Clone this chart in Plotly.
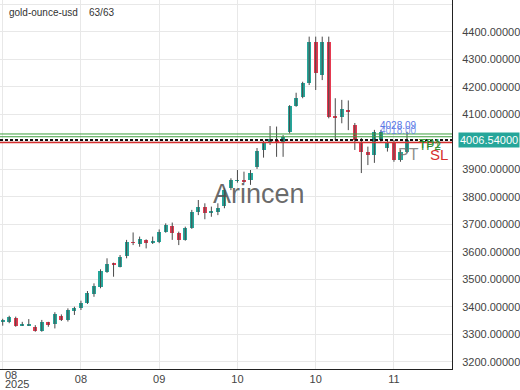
import plotly.graph_objects as go

symbol = "gold-ounce-usd"
count_label = "63/63"
watermark = "Arincen"

opens = [3345, 3344, 3359, 3332, 3332, 3327, 3312, 3344, 3337, 3367,
         3352, 3388, 3395, 3413, 3445, 3473, 3526, 3559, 3545, 3584,
         3634, 3628, 3643, 3631, 3636, 3673, 3693, 3668, 3643, 3685,
         3745, 3761, 3742, 3745, 3766, 3832, 3858, 3860, 3861, 3909,
         3970, 3994, 4006, 4000, 4036, 4130, 4164, 4212, 4364, 4243,
         4364, 4093, 4089, 4115, 4061, 4000, 3964, 3952, 4006, 3976,
         4000, 3933, 3964]
highs = [3356, 3367, 3364, 3345, 3355, 3333, 3352, 3345, 3380, 3372,
         3394, 3400, 3422, 3457, 3485, 3536, 3576, 3560, 3588, 3643,
         3670, 3655, 3645, 3655, 3681, 3703, 3706, 3673, 3691, 3752,
         3788, 3776, 3764, 3776, 3830, 3867, 3897, 3891, 3897, 3977,
         4003, 4057, 4055, 4024, 4133, 4178, 4218, 4382, 4382, 4382,
         4382, 4158, 4152, 4150, 4068, 4013, 3982, 4043, 4043, 4006,
         4006, 3970, 4036]
lows = [3331, 3340, 3327, 3330, 3330, 3309, 3309, 3327, 3321, 3348,
        3346, 3370, 3388, 3410, 3436, 3467, 3523, 3509, 3543, 3576,
        3624, 3618, 3612, 3628, 3631, 3669, 3643, 3624, 3640, 3683,
        3733, 3718, 3727, 3733, 3758, 3824, 3851, 3850, 3843, 3901,
        3942, 3988, 3945, 3945, 4030, 4127, 4158, 4206, 4188, 4224,
        4085, 4006, 4067, 4042, 3970, 3886, 3915, 3923, 4000, 3964,
        3927, 3927, 3959]
closes = [3351, 3362, 3330, 3334, 3334, 3312, 3346, 3337, 3373, 3352,
          3388, 3395, 3415, 3450, 3476, 3530, 3555, 3550, 3582, 3636,
          3632, 3646, 3631, 3640, 3673, 3697, 3669, 3641, 3685, 3745,
          3764, 3742, 3748, 3758, 3824, 3861, 3860, 3857, 3885, 3967,
          3994, 4009, 3994, 4016, 4130, 4158, 4212, 4364, 4249, 4364,
          4091, 4089, 4119, 4108, 4006, 3964, 3952, 4036, 4036, 4000,
          3933, 3964, 4006.54]

tick_idx = [0, 12, 24, 36, 48, 60]
tick_labels = ["", "08", "09", "10", "10", "11"]
first_tick_lines = ["08", "2025"]
y_ticks = list(range(3200, 4600, 100))

tp2_level = 4028.09
tp1_level = 4018.0
entry_level = 4006.54
sl_level = 3997.5

UP = "#26a69a"
DOWN = "#e53950"
AXFONT = "Liberation Sans Narrow, Arial Narrow, Arial"

idx = list(range(len(opens)))
colors = [UP if c >= o else DOWN for o, c in zip(opens, closes)]
bases = [min(o, c) for o, c in zip(opens, closes)]
heights = [max(abs(c - o), 2.0) for o, c in zip(opens, closes)]

wx, wy = [], []
for i, h, l in zip(idx, highs, lows):
    wx += [i, i, None]
    wy += [l, h, None]

fig = go.Figure()
fig.add_trace(go.Scatter(x=wx, y=wy, mode="lines",
                         line=dict(color="#4a4a4a", width=1),
                         hoverinfo="skip", showlegend=False))
fig.add_trace(go.Bar(x=idx, base=bases, y=heights, width=0.62,
                     marker=dict(color=colors, line=dict(width=0)),
                     showlegend=False))

shapes = []
for lvl, col, dash, w in [(tp2_level, "#3f9f3f", "solid", 1),
                          (tp1_level, "#3f9f3f", "solid", 1),
                          (sl_level, "#d62f2f", "solid", 1.5),
                          (entry_level, "#111111", "3px,2px", 2)]:
    shapes.append(dict(type="line", xref="paper", x0=0, x1=1, yref="y",
                       y0=lvl, y1=lvl, layer="above",
                       line=dict(color=col, width=w, dash=dash)))

# y tick labels: the one hidden behind the price box is left blank
y_text = ["" if abs(v - entry_level) < 30 else f"{v:.5f}" for v in y_ticks]

annotations = [
    dict(text=symbol, xref="paper", yref="paper", x=0.015, y=0.965,
         xanchor="left", yanchor="middle", showarrow=False,
         font=dict(size=10, color="#333333", family="Arial")),
    dict(text=count_label, xref="paper", yref="paper", x=0.192, y=0.965,
         xanchor="left", yanchor="middle", showarrow=False,
         font=dict(size=10, color="#333333", family="Arial")),
    dict(text=watermark, xref="paper", yref="paper", x=0.573, y=0.474,
         xanchor="center", yanchor="middle", showarrow=False,
         font=dict(size=27, color="rgba(80,80,80,0.85)", family="Arial")),
    dict(text=first_tick_lines[0], xref="paper", yref="paper", x=0.006, y=0,
         yshift=-6, xanchor="left", yanchor="middle", showarrow=False,
         font=dict(size=11, color="#444444", family=AXFONT)),
    dict(text=first_tick_lines[1], xref="paper", yref="paper", x=0.006, y=0,
         yshift=-15, xanchor="left", yanchor="middle", showarrow=False,
         font=dict(size=11, color="#444444", family=AXFONT)),
    dict(text=f"{entry_level:.5f}", xref="paper", yref="y", x=1, y=entry_level,
         xshift=6, xanchor="left", yanchor="middle", showarrow=False,
         bgcolor=UP, borderpad=1,
         font=dict(size=11, color="white", family=AXFONT)),
    dict(text=f"{tp2_level:.2f}", xref="paper", yref="y", x=0.837, y=tp2_level,
         yshift=1, xanchor="left", yanchor="bottom", showarrow=False,
         font=dict(size=10, color="#5a78e6", family="Arial")),
    dict(text=f"{tp1_level:.2f}", xref="paper", yref="y", x=0.837, y=tp1_level,
         yshift=-1, xanchor="left", yanchor="bottom", showarrow=False,
         font=dict(size=10, color="rgba(90,120,230,0.8)", family="Arial")),
    dict(text="PT", xref="paper", yref="y", x=0.875, y=sl_level,
         yshift=-12, xanchor="left", yanchor="middle", showarrow=False,
         font=dict(size=16, color="rgba(110,110,110,0.8)", family="Arial")),
    dict(text="TP1", xref="paper", yref="y", x=0.922, y=entry_level,
         yshift=-4, xanchor="left", yanchor="middle", showarrow=False,
         font=dict(size=12, color="#3f9f3f", family="Arial")),
    dict(text="TP2", xref="paper", yref="y", x=0.922, y=entry_level,
         yshift=-6, xanchor="left", yanchor="middle", showarrow=False,
         font=dict(size=12, color="#2e8b2e", family="Arial")),
    dict(text="SL", xref="paper", yref="y", x=0.948, y=sl_level,
         yshift=-12, xanchor="left", yanchor="middle", showarrow=False,
         font=dict(size=15, color="#d62f2f", family="Arial")),
]

fig.update_layout(
    width=520, height=390,
    margin=dict(l=0, r=66, t=0, b=21),
    plot_bgcolor="white", paper_bgcolor="white",
    showlegend=False, bargap=0,
    font=dict(family="Arial", size=10, color="#444444"),
    shapes=shapes, annotations=annotations,
    xaxis=dict(range=[-0.412, 68.9], tickmode="array", tickvals=tick_idx,
               ticktext=tick_labels, showgrid=True, gridcolor="#e8e8e8",
               gridwidth=1, showline=True, linecolor="#222222", linewidth=1,
               ticks="", zeroline=False, fixedrange=True,
               tickfont=dict(size=11, color="#444444", family=AXFONT)),
    yaxis=dict(range=[3173.5, 4515.2], side="right", tickmode="array",
               tickvals=y_ticks, ticktext=y_text,
               showgrid=True, gridcolor="#e8e8e8", gridwidth=1,
               showline=True, linecolor="#222222", linewidth=1,
               ticks="", zeroline=False, ticklabelstandoff=7,
               tickfont=dict(size=11, color="#444444", family=AXFONT)),
)

fig.write_html("out.html")
